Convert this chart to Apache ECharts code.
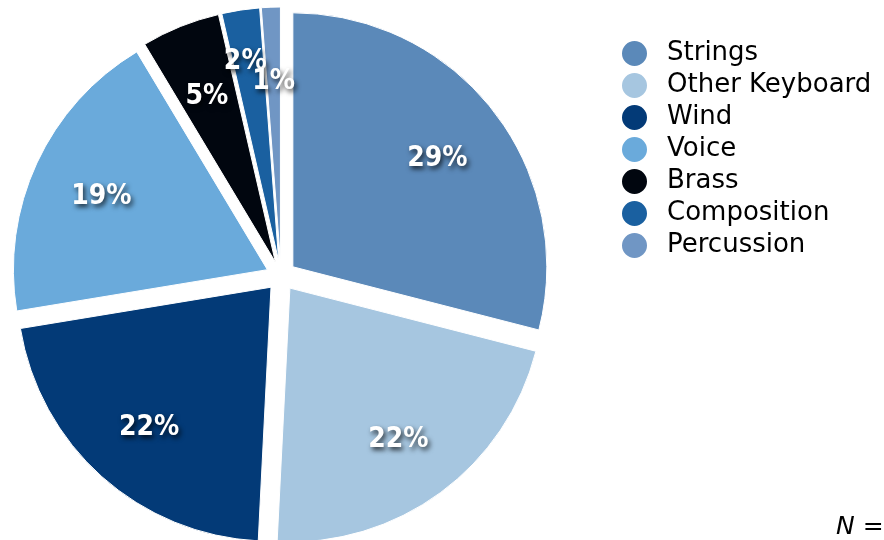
<!DOCTYPE html>
<html>
<head>
<meta charset="utf-8">
<script src="https://cdn.jsdelivr.net/npm/echarts@6/dist/echarts.min.js"></script>
<style>
  html, body { margin: 0; padding: 0; background: #ffffff; }
  #chart { width: 884px; height: 540px; }
</style>
</head>
<body>
<div id="chart"></div>
<script>
// Share of students by main instrument area (percent)
const categories = ['Strings', 'Other Keyboard', 'Wind', 'Voice', 'Brass', 'Composition', 'Percussion'];
const shares = [29.0, 21.8, 21.6, 19.0, 5.0, 2.4, 1.2];
const colors = ['#5B89B9', '#A6C6E0', '#033A77', '#6AAADB', '#01060F', '#1A60A0', '#7096C4'];

const FONT = 'DejaVu Sans';
const LABEL_FONT = 'DejaVu Sans Condensed';
const CENTER = [281, 276];
const RADIUS = 254;
const EXPLODE = 15;

// Shift for the narrow Composition label so it clears the Percussion one
const labelShift = { 'Composition': { dx: -6, dy: -23 } };

const sliceData = categories.map((name, i) => ({
  name: name,
  value: shares[i],
  selected: true,
  itemStyle: { color: colors[i] }
}));

const labelData = categories.map((name, i) => ({
  name: name,
  value: shares[i],
  selected: true
}));

const chart = echarts.init(document.getElementById('chart'), null, { renderer: 'canvas' });

chart.setOption({
  animation: false,
  color: colors,
  legend: {
    orient: 'vertical',
    left: 615,
    top: 34,
    icon: 'circle',
    itemWidth: 27,
    itemHeight: 27,
    itemGap: 3,
    selectedMode: false,
    data: categories,
    textStyle: {
      fontFamily: FONT,
      fontSize: 26,
      lineHeight: 27,
      color: '#000000',
      padding: [0, 0, 0, 14]
    }
  },
  series: [
    {
      type: 'pie',
      center: CENTER,
      radius: RADIUS,
      startAngle: 90,
      clockwise: true,
      selectedMode: 'multiple',
      selectedOffset: EXPLODE,
      silent: true,
      avoidLabelOverlap: false,
      label: { show: false },
      labelLine: { show: false },
      itemStyle: { borderColor: '#ffffff', borderWidth: 1 },
      emphasis: { disabled: true },
      data: sliceData
    },
    {
      // transparent twin pie that only carries the percentage labels
      type: 'pie',
      center: CENTER,
      radius: 360,
      startAngle: 90,
      clockwise: true,
      selectedMode: 'multiple',
      selectedOffset: EXPLODE,
      silent: true,
      avoidLabelOverlap: false,
      minShowLabelAngle: 0,
      itemStyle: { color: 'rgba(0,0,0,0)', borderWidth: 0 },
      emphasis: { disabled: true },
      labelLine: { show: false },
      label: {
        show: true,
        position: 'inside',
        formatter: p => Math.round(p.value) + '%',
        fontFamily: LABEL_FONT,
        fontWeight: 'bold',
        fontSize: 28,
        color: '#ffffff',
        textShadowColor: 'rgba(0,0,0,0.75)',
        textShadowBlur: 5,
        textShadowOffsetX: 2,
        textShadowOffsetY: 3
      },
      labelLayout: function (params) {
        const s = labelShift[categories[params.dataIndex]] || { dx: 0, dy: 0 };
        return { hideOverlap: false, dx: s.dx, dy: s.dy + 4 };
      },
      data: labelData
    }
  ],
  graphic: [
    {
      type: 'text',
      left: 836,
      top: 515,
      style: {
        text: '{n|N} =',
        fontFamily: FONT,
        fontSize: 25,
        fill: '#000000',
        rich: {
          n: { fontFamily: FONT, fontSize: 25, fontStyle: 'italic', fill: '#000000' }
        }
      }
    }
  ]
});
</script>
</body>
</html>
